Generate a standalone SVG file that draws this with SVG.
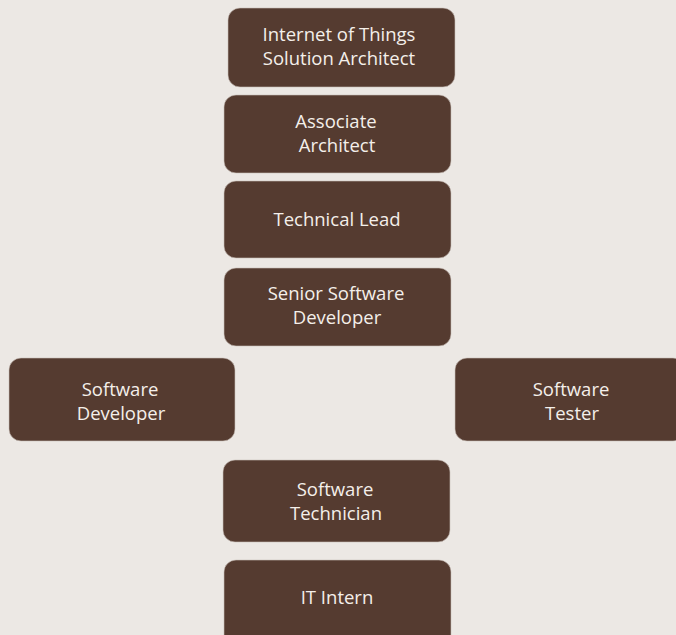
<svg xmlns="http://www.w3.org/2000/svg" width="676" height="635" viewBox="0 0 676 635">
<style>
.box{fill:#553b30;stroke:#c9bfb8;stroke-width:0.6}
.t{fill:#f4efea;font-family:"Open Sans","Noto Sans",sans-serif;font-size:18.5px;text-anchor:middle}
</style>
<rect width="676" height="635" fill="#ece8e4"/>
<g id="connectors"></g>
<g id="iot-architect"><rect class="box" x="228" y="8" width="227" height="79" rx="12"/><text class="t" x="339" y="41">Internet of Things</text><text class="t" x="339" y="65">Solution Architect</text></g>
<g id="associate-architect"><rect class="box" x="224" y="95" width="227" height="78" rx="12"/><text class="t" x="336" y="128">Associate</text><text class="t" x="337" y="152">Architect</text></g>
<g id="technical-lead"><rect class="box" x="224" y="181" width="227" height="77" rx="12"/><text class="t" x="337" y="226">Technical Lead</text></g>
<g id="senior-developer"><rect class="box" x="224" y="268" width="227" height="78" rx="12"/><text class="t" x="336" y="300">Senior Software</text><text class="t" x="337" y="324">Developer</text></g>
<g id="software-developer"><rect class="box" x="9" y="358" width="226" height="83" rx="12"/><text class="t" x="120" y="396">Software</text><text class="t" x="121" y="420">Developer</text></g>
<g id="software-tester"><rect class="box" x="455" y="358" width="230" height="83" rx="12"/><text class="t" x="571" y="396">Software</text><text class="t" x="572" y="420">Tester</text></g>
<g id="software-technician"><rect class="box" x="223" y="460" width="227" height="82" rx="12"/><text class="t" x="335" y="496">Software</text><text class="t" x="336" y="520">Technician</text></g>
<g id="it-intern"><rect class="box" x="224" y="560" width="227" height="90" rx="12"/><text class="t" x="337" y="604">IT Intern</text></g>
</svg>
